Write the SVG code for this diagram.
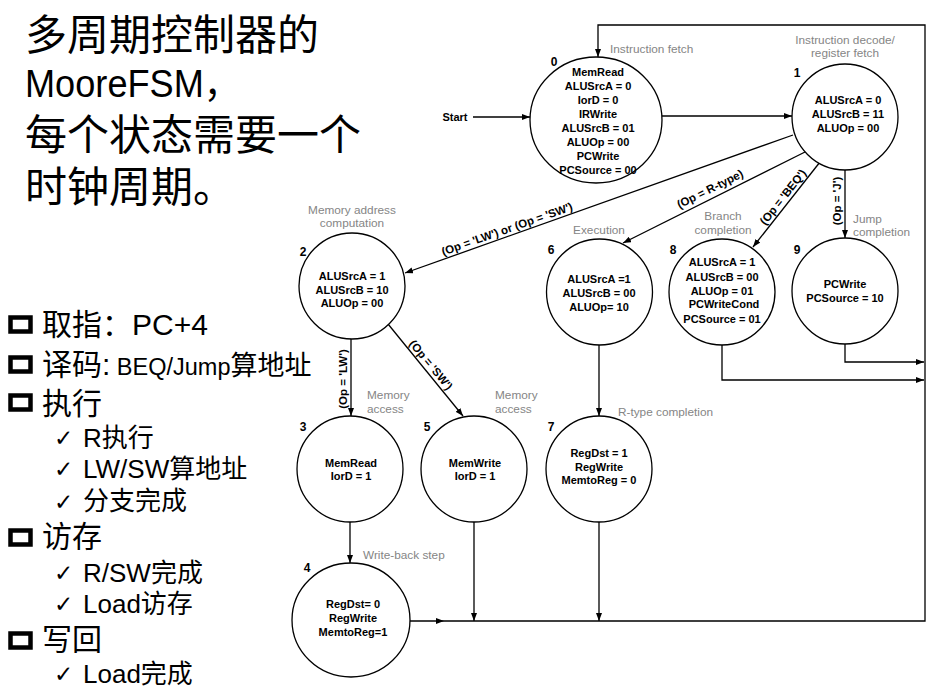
<svg xmlns="http://www.w3.org/2000/svg" width="938" height="696" viewBox="0 0 938 696">
<style>
.bg{fill:#fff}
.st{fill:#fff;stroke:#000;stroke-width:1.3}
.t{font-family:"Liberation Sans",Arial,sans-serif;font-weight:bold;font-size:11px;fill:#000;text-anchor:middle}
.n{font-family:"Liberation Sans",Arial,sans-serif;font-weight:bold;font-size:12px;fill:#000;text-anchor:middle}
.g{font-family:"Liberation Sans",Arial,sans-serif;font-size:11.8px;fill:#858585}
.gm{text-anchor:middle}
.e{font-family:"Liberation Sans",Arial,sans-serif;font-weight:bold;font-size:11.5px;fill:#000;text-anchor:middle}
.c{fill:none;stroke:#000;stroke-width:1.3}
.cjk{font-family:"Liberation Sans","Noto Sans CJK SC",sans-serif;fill:#000}
.box{fill:none;stroke:#000;stroke-width:4.5}
.chk{font-family:"DejaVu Sans",sans-serif;font-size:23px;fill:#000}
</style>
<defs>
<marker id="ah" markerWidth="8" markerHeight="6" refX="8" refY="3" orient="auto" markerUnits="userSpaceOnUse"><path d="M0,0 L8,3 L0,6 z" fill="#000"/></marker>
</defs>
<rect class="bg" x="0" y="0" width="938" height="696"/>

<g id="title" class="cjk">
<text x="25" y="50" font-size="42">多周期控制器的</text>
<text x="25" y="97" font-size="38" textLength="215" lengthAdjust="spacingAndGlyphs">MooreFSM，</text>
<text x="25" y="150" font-size="42">每个状态需要一个</text>
<text x="25" y="202" font-size="42">时钟周期。</text>
</g>

<g id="list" class="cjk">
<rect class="box" x="10.5" y="317.5" width="20" height="14"/>
<text x="42" y="335" font-size="30">取指：PC+4</text>
<rect class="box" x="10.5" y="357.5" width="20" height="14"/>
<text x="42" y="375" font-size="30">译码:<tspan font-size="23.5"> BEQ/Jump</tspan><tspan font-size="27">算地址</tspan></text>
<rect class="box" x="10.5" y="395.5" width="20" height="14"/>
<text x="42" y="414" font-size="30">执行</text>
<text class="chk" x="54" y="446">✓</text>
<text x="83" y="447" font-size="26">R执行</text>
<text class="chk" x="54" y="477">✓</text>
<text x="83" y="478" font-size="26">LW/SW算地址</text>
<text class="chk" x="54" y="510">✓</text>
<text x="83" y="510" font-size="26">分支完成</text>
<rect class="box" x="10.5" y="530.5" width="20" height="14"/>
<text x="42" y="547" font-size="30">访存</text>
<text class="chk" x="54" y="581">✓</text>
<text x="83" y="582" font-size="26">R/SW完成</text>
<text class="chk" x="54" y="612">✓</text>
<text x="83" y="613" font-size="26">Load访存</text>
<rect class="box" x="10.5" y="633.5" width="20" height="14"/>
<text x="42" y="650" font-size="30">写回</text>
<text class="chk" x="54" y="682">✓</text>
<text x="83" y="683" font-size="26">Load完成</text>
</g>

<g id="connectors">
<path class="c" d="M473,117 H530" marker-end="url(#ah)"/>
<path class="c" d="M662,116 H792" marker-end="url(#ah)"/>
<path class="c" d="M793,135 L405,273" marker-end="url(#ah)"/>
<path class="c" d="M805,152 L623,243" marker-end="url(#ah)"/>
<path class="c" d="M820,162 L753,247" marker-end="url(#ah)"/>
<path class="c" d="M845,170 V238" marker-end="url(#ah)"/>
<path class="c" d="M351,338 V416" marker-end="url(#ah)"/>
<path class="c" d="M388,324 L463,416" marker-end="url(#ah)"/>
<path class="c" d="M599,345 V416" marker-end="url(#ah)"/>
<path class="c" d="M350,522 V563" marker-end="url(#ah)"/>
<path class="c" d="M474,522 V621" marker-end="url(#ah)"/>
<path class="c" d="M599,522 V621" marker-end="url(#ah)"/>
<path class="c" d="M845,344 V362 H924" marker-end="url(#ah)"/>
<path class="c" d="M722,345 V380 H924" marker-end="url(#ah)"/>
<path class="c" d="M410,621 H444" marker-end="url(#ah)"/>
<path class="c" d="M444,621 H925 V25 H598 V57" marker-end="url(#ah)"/>
<text class="t" x="455" y="121" text-anchor="middle">Start</text>
<text class="e" transform="translate(507,229) rotate(-19.4)" x="0" y="4">(Op = 'LW') or (Op = 'SW')</text>
<text class="e" transform="translate(710,189) rotate(-26.6)" x="0" y="4">(Op = R-type)</text>
<text class="e" transform="translate(783,197) rotate(-51.7)" x="0" y="4">(Op = 'BEQ')</text>
<text class="e" transform="translate(837,201) rotate(-90)" x="0" y="4">(Op = 'J')</text>
<text class="e" transform="translate(342.5,379) rotate(-90)" x="0" y="4">(Op = 'LW')</text>
<text class="e" transform="translate(431,365) rotate(50.5)" x="0" y="4">(Op = 'SW')</text>
</g>

<g id="state0">
<ellipse class="st" cx="596" cy="120" rx="66" ry="63"/>
<text class="n" x="554" y="66">0</text>
<text class="t" x="598" y="76">MemRead</text>
<text class="t" x="598" y="90">ALUSrcA = 0</text>
<text class="t" x="598" y="104">IorD = 0</text>
<text class="t" x="598" y="117.5">IRWrite</text>
<text class="t" x="598" y="131.5">ALUSrcB = 01</text>
<text class="t" x="598" y="145.5">ALUOp = 00</text>
<text class="t" x="598" y="159.5">PCWrite</text>
<text class="t" x="598" y="173.5">PCSource = 00</text>
<text class="g" x="610" y="53">Instruction fetch</text>
</g>

<g id="state1">
<circle class="st" cx="845" cy="117" r="53"/>
<text class="n" x="797" y="77">1</text>
<text class="t" x="848" y="104">ALUSrcA = 0</text>
<text class="t" x="848" y="118">ALUSrcB = 11</text>
<text class="t" x="848" y="132">ALUOp = 00</text>
<text class="g gm" x="845" y="44">Instruction decode/</text>
<text class="g gm" x="845" y="57">register fetch</text>
</g>

<g id="state2">
<circle class="st" cx="352" cy="286" r="53"/>
<text class="n" x="303" y="256">2</text>
<text class="t" x="352" y="280">ALUSrcA = 1</text>
<text class="t" x="352" y="294">ALUSrcB = 10</text>
<text class="t" x="352" y="307">ALUOp = 00</text>
<text class="g gm" x="352" y="214">Memory address</text>
<text class="g gm" x="352" y="227">computation</text>
</g>

<g id="state6">
<circle class="st" cx="599.5" cy="292" r="53"/>
<text class="n" x="551" y="254">6</text>
<text class="t" x="599" y="283">ALUSrcA =1</text>
<text class="t" x="599" y="297">ALUSrcB = 00</text>
<text class="t" x="599" y="311">ALUOp= 10</text>
<text class="g gm" x="599" y="234">Execution</text>
</g>

<g id="state8">
<circle class="st" cx="722" cy="292" r="53"/>
<text class="n" x="673" y="254">8</text>
<text class="t" x="722" y="266">ALUSrcA = 1</text>
<text class="t" x="722" y="281">ALUSrcB = 00</text>
<text class="t" x="722" y="295">ALUOp = 01</text>
<text class="t" x="724" y="308">PCWriteCond</text>
<text class="t" x="722" y="323">PCSource = 01</text>
<text class="g gm" x="723" y="220">Branch</text>
<text class="g gm" x="723" y="234">completion</text>
</g>

<g id="state9">
<circle class="st" cx="845" cy="291" r="53"/>
<text class="n" x="797" y="254">9</text>
<text class="t" x="845" y="288">PCWrite</text>
<text class="t" x="845" y="302">PCSource = 10</text>
<text class="g" x="853" y="223">Jump</text>
<text class="g" x="853" y="236">completion</text>
</g>

<g id="state3">
<circle class="st" cx="350" cy="469" r="53"/>
<text class="n" x="303" y="431">3</text>
<text class="t" x="351" y="467">MemRead</text>
<text class="t" x="351" y="480">IorD = 1</text>
<text class="g" x="367" y="399">Memory</text>
<text class="g" x="367" y="413">access</text>
</g>

<g id="state5">
<circle class="st" cx="474" cy="469" r="53"/>
<text class="n" x="427" y="431">5</text>
<text class="t" x="475" y="467">MemWrite</text>
<text class="t" x="475" y="480">IorD = 1</text>
<text class="g" x="495" y="399">Memory</text>
<text class="g" x="495" y="413">access</text>
</g>

<g id="state7">
<circle class="st" cx="599" cy="469" r="53"/>
<text class="n" x="551" y="431">7</text>
<text class="t" x="599" y="457">RegDst = 1</text>
<text class="t" x="599" y="471">RegWrite</text>
<text class="t" x="599" y="484">MemtoReg = 0</text>
<text class="g" x="618" y="416">R-type completion</text>
</g>

<g id="state4">
<ellipse class="st" cx="351" cy="620" rx="59" ry="57"/>
<text class="n" x="307" y="572">4</text>
<text class="t" x="353" y="608">RegDst= 0</text>
<text class="t" x="353" y="622">RegWrite</text>
<text class="t" x="353" y="636">MemtoReg=1</text>
<text class="g" x="363" y="559">Write-back step</text>
</g>
</svg>
